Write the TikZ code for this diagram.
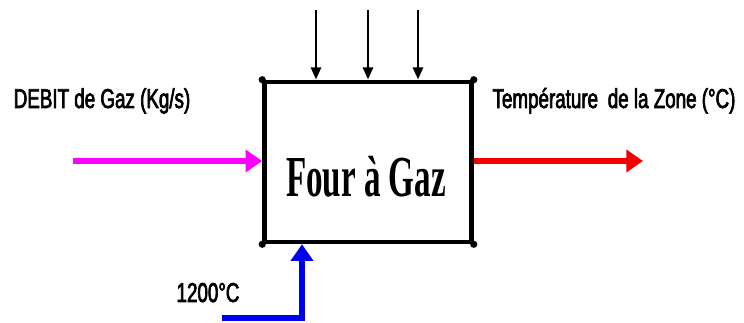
\documentclass[tikz,border=0pt]{standalone}
\usepackage{fontspec}
\setmainfont{Liberation Serif}
\newfontfamily\narrowfont[FakeStretch=0.69,FakeBold=2.5]{Liberation Sans}
\newfontfamily\titlefont[FakeStretch=0.57]{Liberation Serif Bold}
\usetikzlibrary{arrows.meta,positioning}
\definecolor{GazPink}{RGB}{255,0,255}
\definecolor{ZoneRed}{RGB}{245,0,0}
\definecolor{AirBlue}{RGB}{0,0,240}

\begin{document}
\begin{tikzpicture}[x=0.02cm,y=0.02cm,
  fourbox/.style={draw=black,line width=2.6pt,minimum width=4.14cm,
                  minimum height=3.2cm,inner sep=0pt},
  lbl/.style={font=\narrowfont\fontsize{15.5}{18}\selectfont,inner sep=0pt,anchor=base},
  inarrow/.style={-{Triangle[length=7pt,width=5.6pt]},line width=1.7pt},
  flow/.style={-{Triangle[length=9.5pt,width=12.5pt]},line width=3.2pt},
]
\useasboundingbox (0,0) rectangle (744,323);
\node[fourbox] (four) at (368,161) {};
\node[font=\titlefont\fontsize{33}{36}\selectfont,anchor=base] (title) at (366,126) {Four à Gaz};
% dots on the corners
\foreach \c in {north west,north east,south west,south east}
  \fill (four.\c) circle (3.6);
% three inputs from above
\foreach \x/\n in {316/a,368/b,418/c} {
  \coordinate (top\n) at (\x,313);
  \draw[inarrow] (top\n) -- (top\n |- four.north);
}
\coordinate (gazin) at (73,162);
\coordinate (zoneout) at (643,162);
\draw[flow,GazPink] (gazin) -- (gazin -| four.west);
\draw[flow,ZoneRed] (zoneout -| four.east) -- (zoneout);
\coordinate (airin) at (222,5);
\coordinate (aircorner) at (302,5);
\draw[flow,AirBlue] (airin) -- (aircorner) -- (aircorner |- four.south);
\node[lbl] (debit) at (102,215) {DEBIT de Gaz (Kg/s)};
\node[lbl] (temp) at (614,215) {Température\, de la Zone (°C)};
\node[lbl] (t1200) at (208,21) {1200°C};
\end{tikzpicture}
\end{document}
